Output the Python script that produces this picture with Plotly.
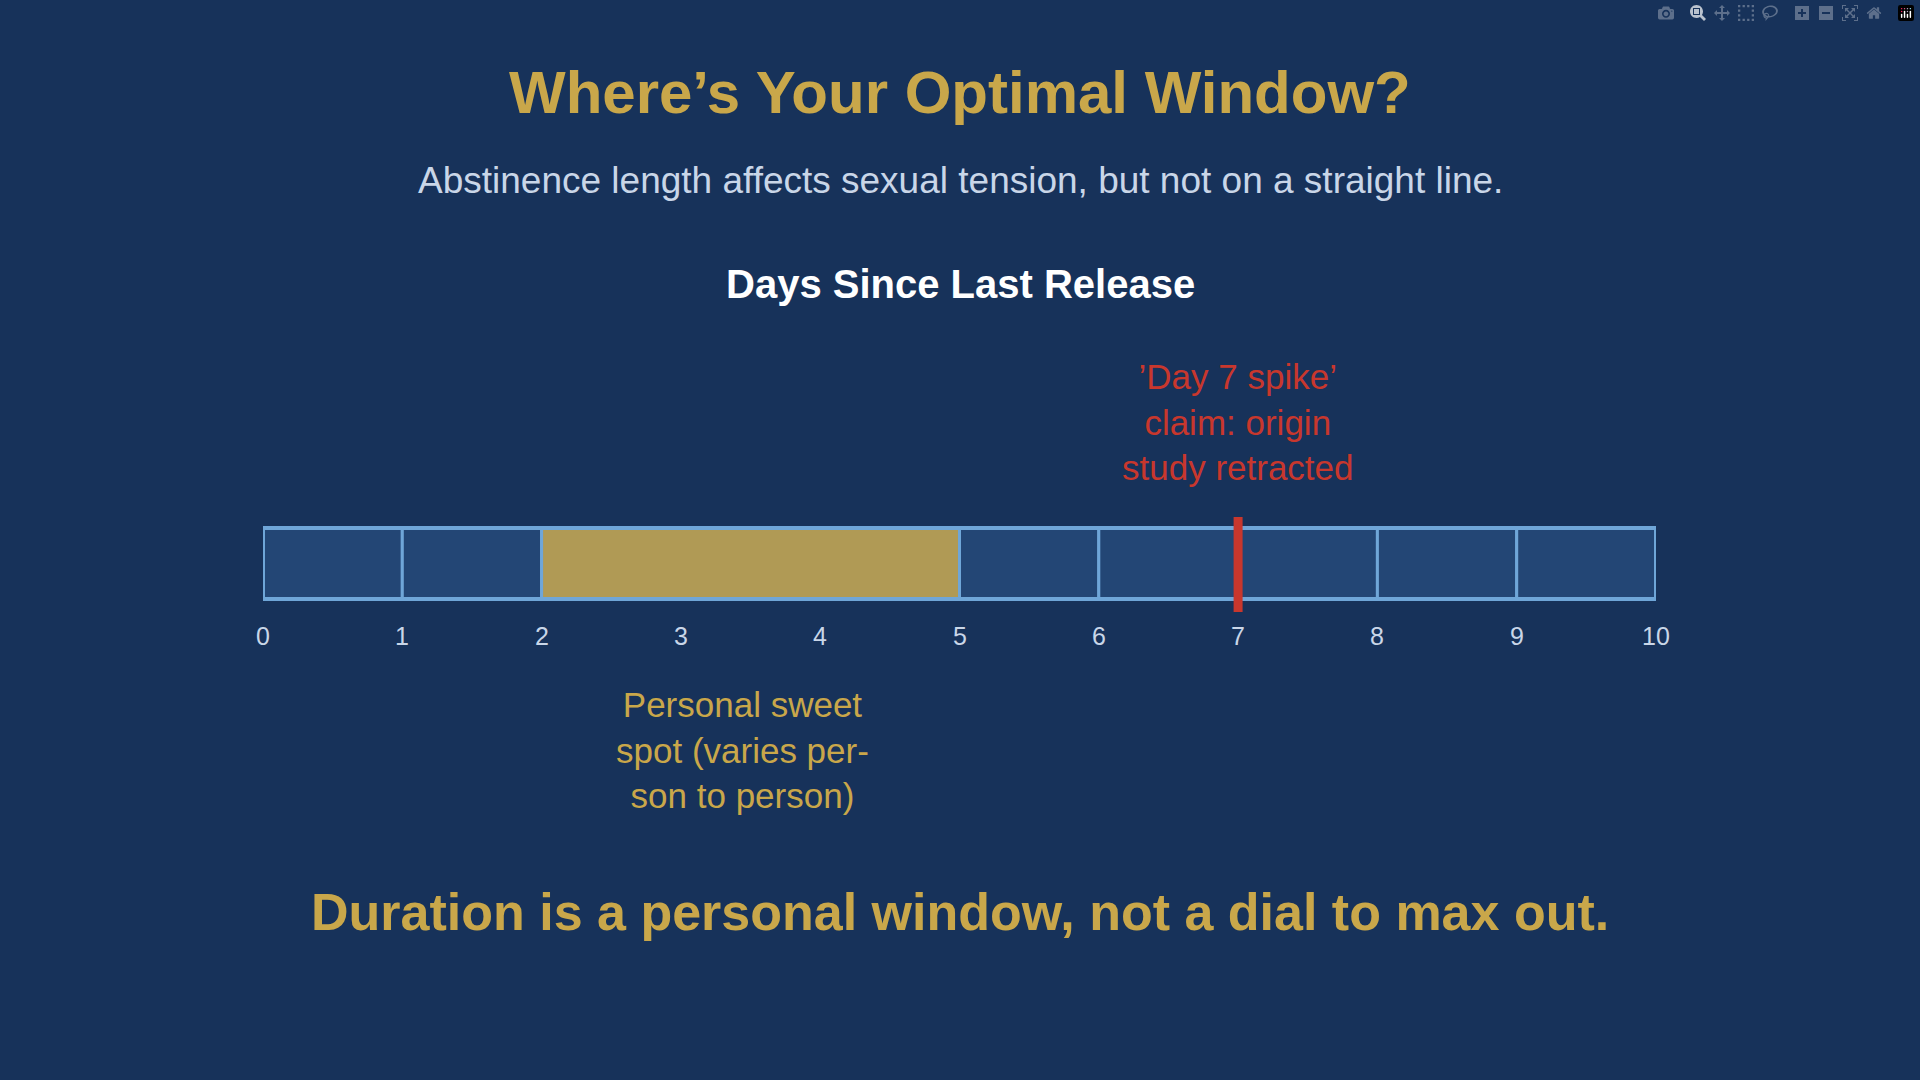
import plotly.graph_objects as go

days = list(range(0, 11))
tick_labels = [str(d) for d in days]
sweet_start, sweet_end = 2, 5
spike_day = 7

BG = "#17325a"; CELL = "#234675"; BORDER = "#6fa6d8"; GOLD = "#c9a74a"
SWEET = "#b09a55"; RED = "#c8372d"; PALE = "#c9d6e8"
FONT = "Liberation Sans, Arial, sans-serif"

fig = go.Figure()
fig.add_trace(go.Scatter(x=days, y=[700]*len(days), mode="markers", marker=dict(opacity=0), hoverinfo="skip", showlegend=False))

shapes = []
y0, y1 = 528, 599
for d in days[:-1]:
    if sweet_start <= d < sweet_end:
        continue
    shapes.append(dict(type="rect", xref="x", yref="y", x0=d, x1=d+1, y0=y0, y1=y1,
                       fillcolor=CELL, line=dict(color=BORDER, width=3)))
shapes.append(dict(type="rect", xref="x", yref="y", x0=sweet_start, x1=sweet_end, y0=y0, y1=y1,
                   fillcolor=SWEET, line=dict(color=BORDER, width=3)))
shapes.append(dict(type="rect", xref="x", yref="y", x0=days[0], x1=days[-1], y0=y0, y1=y1,
                   fillcolor="rgba(0,0,0,0)", line=dict(color=BORDER, width=4)))
shapes.append(dict(type="line", xref="x", yref="y", x0=spike_day, x1=spike_day, y0=517, y1=612,
                   line=dict(color=RED, width=9)))

ann = []
def t(x, y, text, size, color, bold=False, xref="paper"):
    ann.append(dict(x=x, y=y, xref=xref, yref="y", text=f"<b>{text}</b>" if bold else text,
                    showarrow=False, font=dict(family=FONT, size=size, color=color), align="center"))
t(0.5, 92, "Where’s Your Optimal Window?", 60, GOLD, True)
t(0.5, 180, "Abstinence length affects sexual tension, but not on a straight line.", 37, PALE)
t(0.5, 284, "Days Since Last Release", 40, "white", True)
t(spike_day, 422, "’Day 7 spike’<br>claim: origin<br>study retracted", 35, RED, xref="x")
t((sweet_start+sweet_end)/2 - 0.06, 750, "Personal sweet<br>spot (varies per-<br>son to person)", 35, GOLD, xref="x")
t(0.5, 912, "Duration is a personal window, not a dial to max out.", 52, GOLD, True)
for d, lab in zip(days, tick_labels):
    t(d, 636, lab, 25, PALE, xref="x")

fig.update_layout(width=1920, height=1080, paper_bgcolor=BG, plot_bgcolor=BG,
                  margin=dict(l=0, r=0, t=0, b=0), shapes=shapes, annotations=ann,
                  xaxis=dict(domain=[263/1920, 1656/1920], range=[0, 10], visible=False),
                  yaxis=dict(domain=[0, 1], range=[1080, 0], visible=False))
fig.write_html("out.html", post_script="document.body.style.margin='0';document.body.style.background='#17325a';document.body.style.overflow='hidden';")
